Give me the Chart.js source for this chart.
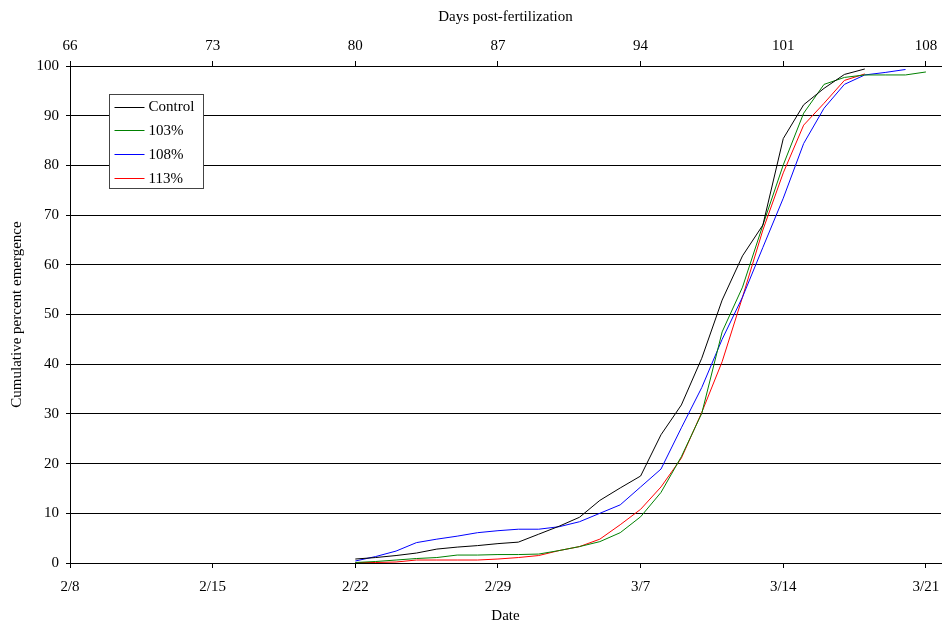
<!DOCTYPE html>
<html>
<head>
<meta charset="utf-8">
<script src="https://cdn.jsdelivr.net/npm/chart.js@4.4.1/dist/chart.umd.min.js"></script>
<style>
  html, body { margin: 0; padding: 0; background: #fff; }
  #wrap { width: 944px; height: 625px; }
</style>
</head>
<body>
<div id="wrap"><canvas id="c" width="944" height="625"></canvas></div>
<script>
// ---- Data (x = days post-fertilization) ----
const dpf = [80,81,82,83,84,85,86,87,88,89,90,91,92,93,94,95,96,97,98,99,100,101,102,103,104,105,106,107,108];

const control = [0.8,1.1,1.5,2.0,2.8,3.2,3.5,3.9,4.2,5.8,7.4,9.2,12.6,15.1,17.5,25.8,31.8,41.2,52.9,61.8,68.0,85.4,92.2,95.5,98.3,99.4];
const pct103  = [0.1,0.3,0.6,0.9,1.1,1.6,1.6,1.7,1.7,1.8,2.5,3.3,4.3,6.1,9.3,14.2,21.4,30.1,46.5,55.5,68.0,80.1,90.5,96.3,97.7,98.2,98.2,98.2,98.8];
const pct108  = [0.4,1.3,2.4,4.1,4.8,5.4,6.1,6.5,6.8,6.8,7.3,8.3,10.0,11.7,15.3,18.9,27.2,35.3,45.0,53.5,63.5,73.4,84.4,91.5,96.3,98.2,98.7,99.3];
const pct113  = [0.1,0.1,0.2,0.6,0.6,0.6,0.6,0.8,1.1,1.5,2.5,3.3,4.8,7.7,10.8,15.3,21.1,30.3,40.5,53.5,67.0,78.5,88.1,92.5,97.1,98.4];

const seriesNames = ['Control','103%','108%','113%'];
const seriesColors = ['#000000','#008000','#0000FF','#FF0000'];

const dayTicks  = [66,73,80,87,94,101,108];
const dateTicks = ['2/8','2/15','2/22','2/29','3/7','3/14','3/21'];

// ---- Build datasets ----
function pts(vals) { return vals.map((v, i) => ({ x: dpf[i], y: v })); }
const allSeries = [control, pct103, pct108, pct113];
const datasets = allSeries.map((vals, i) => ({
  label: seriesNames[i],
  data: pts(vals),
  borderColor: seriesColors[i],
  backgroundColor: seriesColors[i],
  borderWidth: 1,
  pointRadius: 0,
  tension: 0,
  fill: false,
  xAxisID: 'x',
  yAxisID: 'y'
}));

const FONT = { family: "'Liberation Serif', 'Times New Roman', serif", size: 15 };

const boxLegend = {
  id: 'boxLegend',
  afterDatasetsDraw(chart) {
    const ctx = chart.ctx, a = chart.chartArea;
    const bx = a.left + 39.5, by = a.top + 28.5, bw = 94, bh = 94;
    ctx.save();
    ctx.fillStyle = '#fff';
    ctx.fillRect(bx, by, bw, bh);
    ctx.strokeStyle = '#444';
    ctx.lineWidth = 1;
    ctx.strokeRect(bx, by, bw, bh);
    ctx.font = FONT.size + 'px ' + FONT.family;
    ctx.textBaseline = 'middle';
    ctx.textAlign = 'left';
    seriesNames.forEach((name, i) => {
      const y = by + 12 + i * 23.7;
      ctx.strokeStyle = seriesColors[i];
      ctx.beginPath();
      ctx.moveTo(bx + 5, Math.round(y) + 0.5);
      ctx.lineTo(bx + 35, Math.round(y) + 0.5);
      ctx.stroke();
      ctx.fillStyle = '#000';
      ctx.fillText(name, bx + 39, y + 1);
    });
    ctx.restore();
  }
};

const xTickCfg = (labels, pad) => ({
  autoSkip: false,
  maxRotation: 0,
  color: '#000',
  font: FONT,
  padding: pad,
  callback: (v) => { const k = dayTicks.indexOf(v); return k >= 0 ? labels[k] : ''; }
});
const setDayTicks = (s) => { s.ticks = dayTicks.map(v => ({ value: v })); };
const noPadX = (h) => (s) => { s.height = h; s.paddingLeft = 0; s.paddingRight = 0; };

new Chart(document.getElementById('c'), {
  type: 'line',
  data: { datasets },
  options: {
    responsive: false,
    animation: false,
    devicePixelRatio: 1,
    layout: { padding: { left: 0, right: 3, top: 0, bottom: 0 } },
    plugins: { legend: { display: false }, tooltip: { enabled: false } },
    scales: {
      x: {
        type: 'linear', position: 'bottom', min: 66, max: 108.74,
        afterBuildTicks: setDayTicks,
        ticks: xTickCfg(dateTicks, 10),
        grid: { display: true, drawOnChartArea: false, drawTicks: true, tickLength: 5, color: '#000' },
        border: { display: true, color: '#000', width: 1 },
        title: { display: true, text: 'Date', color: '#000', font: FONT, padding: { top: 0, bottom: 0 } },
        afterFit: noPadX(62)
      },
      x2: {
        type: 'linear', position: 'top', min: 66, max: 108.74,
        afterBuildTicks: setDayTicks,
        ticks: xTickCfg(dayTicks.map(String), 6),
        grid: { display: true, drawOnChartArea: false, drawTicks: true, tickLength: 5, color: '#000' },
        border: { display: true, color: '#000', width: 1 },
        title: { display: true, text: 'Days post-fertilization', color: '#000', font: FONT, padding: { top: 8, bottom: 0 } },
        afterFit: noPadX(66)
      },
      y: {
        type: 'linear', position: 'left', min: 0, max: 100,
        ticks: { stepSize: 10, color: '#000', font: FONT, padding: 7 },
        grid: { display: true, color: '#000', lineWidth: 1, tickLength: 4, drawTicks: true },
        border: { display: true, color: '#000', width: 1 },
        title: { display: true, text: 'Cumulative percent emergence', color: '#000', font: FONT, padding: { top: 8, bottom: 0 } },
        afterFit: (s) => { s.width = 70; s.paddingTop = 0; s.paddingBottom = 0; }
      }
    }
  },
  plugins: [boxLegend]
});
</script>
</body>
</html>
